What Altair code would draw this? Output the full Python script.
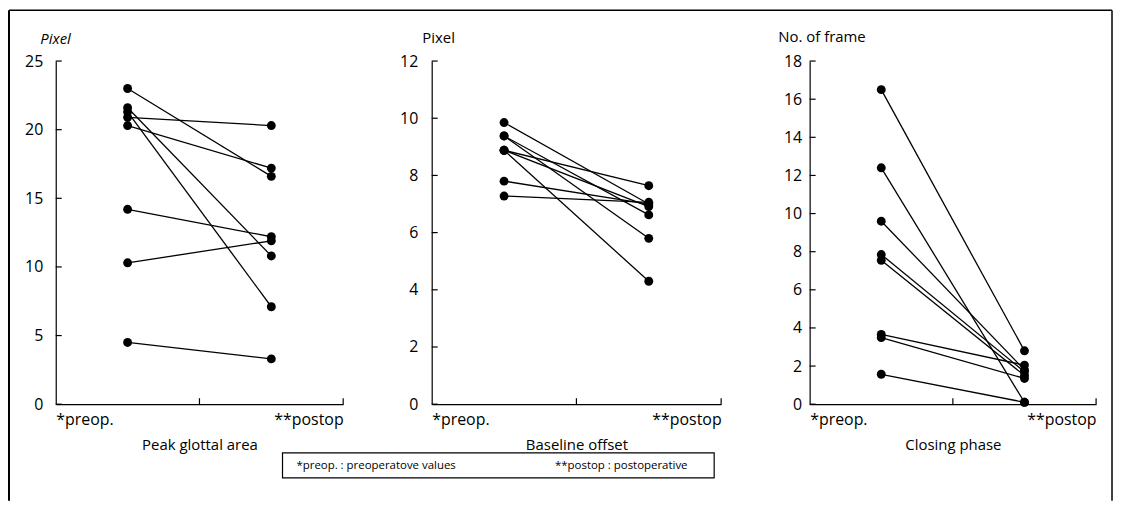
import altair as alt
import pandas as pd

FONT = "Open Sans"

panel_names = ["Peak glottal area", "Baseline offset", "Closing phase"]
y_titles = ["Pixel", "Pixel", "No. of frame"]
y_italic = [True, False, False]
y_max = [25, 12, 18]
y_step = [5, 2, 2]
x_labels = ["*preop.", "**postop"]

peak_pre = [23.0, 21.6, 21.3, 20.9, 20.3, 14.2, 10.3, 4.5]
peak_post = [16.6, 10.8, 7.1, 20.3, 17.2, 12.2, 11.9, 3.3]

base_pre = [9.85, 9.38, 9.38, 8.88, 8.88, 8.88, 7.80, 7.28]
base_post = [7.00, 6.62, 5.80, 7.64, 6.91, 4.30, 7.00, 7.06]

close_pre = [16.5, 12.4, 9.6, 7.85, 7.55, 3.66, 3.49, 1.57]
close_post = [2.8, 0.1, 1.8, 1.7, 1.5, 2.05, 1.35, 0.1]

legend_texts = ["*preop. : preoperatove values", "**postop : postoperative"]

series = [(peak_pre, peak_post), (base_pre, base_post), (close_pre, close_post)]
widths = [289, 291, 288]
H = 345


def panel(i):
    pre, post = series[i]
    W = widths[i]
    rows = []
    for s, (a, b) in enumerate(zip(pre, post)):
        rows.append({"subject": s, "phase": "pre", "value": a})
        rows.append({"subject": s, "phase": "post", "value": b})
    df = pd.DataFrame(rows)

    xs = alt.Scale(domain=[0, 2], nice=False, zero=False)
    ys = alt.Scale(domain=[0, y_max[i]], nice=False)
    yvals = list(range(0, y_max[i] + 1, y_step[i]))

    x_axis = alt.Axis(
        values=[0, 2],
        labelExpr="datum.value == 0 ? '%s' : '%s'" % (x_labels[0], x_labels[1]),
        labelFlush=True,
        labelOverlap=False,
        ticks=False,
        grid=False,
        domainColor="black",
        domainWidth=1.2,
        labelPadding=7,
        labelFontSize=16,
        labelColor="black",
        labelFont=FONT,
        title=panel_names[i],
        titleFont=FONT,
        titleFontSize=15,
        titleFontWeight="normal",
        titleColor="black",
        titlePadding=11,
    )
    y_axis = alt.Axis(
        values=yvals,
        labelOverlap=False,
        ticks=False,
        grid=False,
        domainColor="black",
        domainWidth=1.2,
        labelPadding=[13, 14, 8][i],
        labelFontSize=16,
        labelColor="black",
        labelFont=FONT,
        title=y_titles[i],
        titleAngle=0,
        titleAlign="left",
        titleBaseline="alphabetic",
        titleX=[-16, -10, -32][i],
        titleY=[-18, -19, -20][i],
        titleFont=FONT,
        titleFontSize=15,
        titleFontWeight="normal",
        titleFontStyle="italic" if y_italic[i] else "normal",
        titleColor="black",
    )
    x_enc = alt.X("xpos:Q", scale=xs, axis=x_axis)
    y_enc = alt.Y("value:Q", scale=ys, axis=y_axis)

    base = alt.Chart(df).transform_calculate(
        xpos="datum.phase == 'pre' ? 0.5 : 1.5"
    )
    lines = base.mark_line(color="black", strokeWidth=1.3).encode(
        x=x_enc, y=y_enc, detail="subject:N", order="xpos:Q"
    )
    dots = base.mark_circle(color="black", size=80, opacity=1).encode(
        x=x_enc, y=y_enc
    )

    yt = pd.DataFrame({"value": yvals})
    yticks = alt.Chart(yt).mark_rule(color="black", strokeWidth=1.2).encode(
        y=y_enc, x=alt.value(0), x2=alt.value(6)
    )
    xt = pd.DataFrame({"xpos": [1, 2]})
    xticks = alt.Chart(xt).mark_rule(color="black", strokeWidth=1.2).encode(
        x=x_enc, y=alt.value(H), y2=alt.value(H - 6)
    )
    layers = [lines, dots, yticks, xticks]

    if i == 0:
        one = pd.DataFrame({"k": [0]})
        fl, ft, fr, fb = -47, -51, 1062, 442
        frame_l = alt.Chart(one).mark_rule(color="black", strokeWidth=2).encode(
            x=alt.value(fl), y=alt.value(ft), y2=alt.value(fb)
        )
        frame_t = alt.Chart(one).mark_rule(color="black", strokeWidth=1.5).encode(
            x=alt.value(fl), x2=alt.value(fr), y=alt.value(ft)
        )
        frame_r = alt.Chart(one).mark_rule(color="black", strokeWidth=1.5).encode(
            x=alt.value(fr), y=alt.value(ft), y2=alt.value(fb)
        )
        box = alt.Chart(one).mark_rect(
            fillOpacity=0, stroke="black", strokeWidth=1.2
        ).encode(
            x=alt.value(228), x2=alt.value(662), y=alt.value(394), y2=alt.value(419)
        )
        lt = pd.DataFrame({"txt": legend_texts, "px": [242, 502]})
        ltext = alt.Chart(lt).mark_text(
            align="left", baseline="middle", font=FONT, fontSize=11.5, color="black"
        ).encode(text="txt:N", x=alt.X("px:Q", scale=None), y=alt.value(407))
        layers += [frame_l, frame_t, frame_r, box, ltext]

    return alt.layer(*layers).properties(width=W, height=H)


chart = alt.hconcat(panel(0), panel(1), panel(2), spacing=89, bounds="flush").properties(
    padding=0
).configure_view(strokeWidth=0)

chart.save("out.html", embed_options={"renderer": "svg", "actions": False})
